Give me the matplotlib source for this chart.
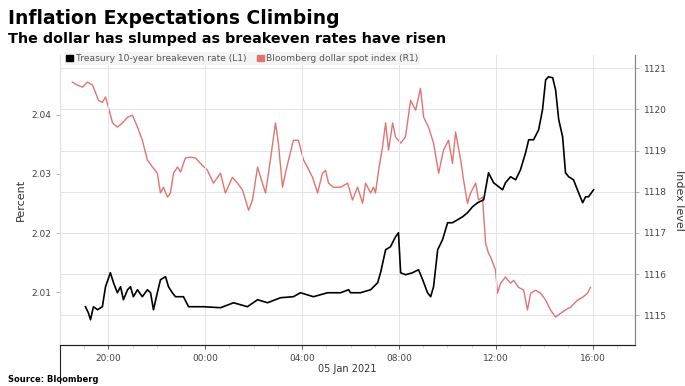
import numpy as np
import pandas as pd
import matplotlib
matplotlib.use("Agg")
import matplotlib.pyplot as plt
import matplotlib.dates as mdates
from matplotlib.patches import Patch

# hours after 2021-01-04 18:00
dollar_hours = [0.51, 0.72, 0.93, 1.13, 1.34, 1.46, 1.59, 1.75, 1.88, 2.0, 2.17, 2.37, 2.58, 2.79, 2.99,
                3.20, 3.40, 3.61, 3.82, 4.02, 4.15, 4.27, 4.44, 4.56, 4.69, 4.85, 4.98, 5.18, 5.39, 5.60,
                5.80, 6.09, 6.34, 6.63, 6.83, 7.12, 7.33, 7.54, 7.79, 7.95, 8.16, 8.36, 8.49, 8.69, 8.90,
                9.02, 9.19, 9.31, 9.44, 9.64, 9.85, 10.06, 10.22, 10.43, 10.64, 10.84, 10.97, 11.09, 11.30,
                11.59, 11.88, 12.08, 12.29, 12.50, 12.62, 12.83, 12.95, 13.03, 13.16, 13.32, 13.45, 13.57,
                13.74, 13.86, 14.07, 14.27, 14.48, 14.69, 14.89, 15.02, 15.22, 15.43, 15.64, 15.84, 16.05,
                16.21, 16.34, 16.55, 16.67, 16.83, 16.96, 17.17, 17.29, 17.45, 17.58, 17.70, 17.79, 17.99,
                18.07, 18.20, 18.40, 18.61, 18.74, 18.94, 19.15, 19.31, 19.44, 19.64, 19.85, 20.06, 20.26,
                20.47, 20.68, 20.88, 21.09, 21.38, 21.59, 21.79, 21.91]
dollar_index = [1120.66, 1120.59, 1120.54, 1120.66, 1120.59, 1120.42, 1120.22, 1120.17, 1120.30, 1120.05,
                1119.67, 1119.57, 1119.67, 1119.81, 1119.86, 1119.57, 1119.25, 1118.77, 1118.60, 1118.45,
                1117.97, 1118.11, 1117.87, 1117.97, 1118.45, 1118.60, 1118.48, 1118.82, 1118.84, 1118.82,
                1118.69, 1118.52, 1118.21, 1118.45, 1117.97, 1118.35, 1118.21, 1118.04, 1117.55, 1117.80,
                1118.60, 1118.21, 1117.97, 1118.77, 1119.67, 1119.18, 1118.11, 1118.45, 1118.77, 1119.25,
                1119.25, 1118.77, 1118.60, 1118.35, 1117.97, 1118.45, 1118.52, 1118.21, 1118.11, 1118.11,
                1118.21, 1117.80, 1118.11, 1117.72, 1118.21, 1117.97, 1118.11, 1117.97, 1118.52, 1119.08,
                1119.67, 1119.01, 1119.67, 1119.33, 1119.18, 1119.33, 1120.22, 1119.98, 1120.51, 1119.81,
                1119.57, 1119.18, 1118.45, 1119.01, 1119.25, 1118.69, 1119.45, 1118.77, 1118.28, 1117.72,
                1117.97, 1118.21, 1117.80, 1117.87, 1116.75, 1116.51, 1116.41, 1116.10, 1115.54, 1115.78,
                1115.93, 1115.78, 1115.85, 1115.68, 1115.61, 1115.13, 1115.54, 1115.61, 1115.54, 1115.37,
                1115.13, 1114.96, 1115.05, 1115.13, 1115.20, 1115.37, 1115.44, 1115.54, 1115.68]

breakeven_hours = [1.05, 1.17, 1.26, 1.38, 1.55, 1.75, 1.88, 2.08, 2.21, 2.37, 2.50, 2.62, 2.79, 2.91, 3.03,
                   3.20, 3.40, 3.61, 3.74, 3.86, 4.02, 4.15, 4.36, 4.48, 4.64, 4.77, 5.10, 5.31, 5.51, 5.93,
                   6.63, 7.17, 7.74, 8.16, 8.57, 9.11, 9.64, 9.93, 10.47, 11.05, 11.59, 11.92, 12.00, 12.41,
                   12.83, 13.12, 13.24, 13.45, 13.65, 13.86, 13.98, 14.07, 14.27, 14.56, 14.81, 14.98, 15.18,
                   15.31, 15.43, 15.60, 15.80, 16.01, 16.21, 16.42, 16.63, 16.83, 17.04, 17.25, 17.50, 17.70,
                   17.91, 18.12, 18.28, 18.40, 18.61, 18.82, 19.02, 19.23, 19.36, 19.56, 19.77, 19.93, 20.06,
                   20.18, 20.35, 20.47, 20.60, 20.76, 20.88, 21.01, 21.21, 21.42, 21.59, 21.71, 21.83, 22.04]
breakeven_rate = [2.00757, 2.00655, 2.00537, 2.00757, 2.00706, 2.00757, 2.01095, 2.01331, 2.01162, 2.00993,
                  2.01095, 2.00875, 2.01044, 2.01095, 2.00926, 2.01044, 2.00926, 2.01044, 2.00993, 2.00706,
                  2.00993, 2.01213, 2.01264, 2.01095, 2.00993, 2.00926, 2.00926, 2.00757, 2.00757, 2.00757,
                  2.00740, 2.00824, 2.00757, 2.00875, 2.00824, 2.00909, 2.00926, 2.00993, 2.00926, 2.00993,
                  2.00993, 2.01044, 2.00993, 2.00993, 2.01044, 2.01162, 2.01331, 2.01720, 2.01770, 2.01939,
                  2.02007, 2.01331, 2.01297, 2.01331, 2.01382, 2.01213, 2.00993, 2.00926, 2.01095, 2.01720,
                  2.01889, 2.02176, 2.02176, 2.02226, 2.02277, 2.02345, 2.02446, 2.02514, 2.02564, 2.03020,
                  2.02851, 2.02784, 2.02733, 2.02851, 2.02953, 2.02902, 2.03071, 2.03358, 2.03578, 2.03578,
                  2.03747, 2.04084, 2.04591, 2.04642, 2.04625, 2.04422, 2.03916, 2.03628, 2.03020, 2.02953,
                  2.02902, 2.02682, 2.02514, 2.02615, 2.02615, 2.02733]

left_ticks = [2.01, 2.02, 2.03, 2.04]
right_ticks = [1115, 1116, 1117, 1118, 1119, 1120, 1121]

start = pd.Timestamp("2021-01-04 18:00")
dollar_t = start + pd.to_timedelta(dollar_hours, unit="h")
breakeven_t = start + pd.to_timedelta(breakeven_hours, unit="h")

red = "#e37373"
fig = plt.figure(figsize=(6.85, 3.86), dpi=100)
ax = fig.add_axes([0.0876, 0.1062, 0.8394, 0.7513])
ax2 = ax.twinx()

ax2.plot(dollar_t, dollar_index, color=red, lw=1.0)
ax.plot(breakeven_t, breakeven_rate, color="black", lw=1.2)

ax.set_zorder(ax2.get_zorder() + 1)
ax.patch.set_visible(False)

ax.set_xlim(start, start + pd.Timedelta(hours=23.75))
ax.set_ylim(2.0011, 2.0501)
ax2.set_ylim(1114.28, 1121.32)
ax.set_yticks(left_ticks)
ax.set_yticklabels(["%.2f" % v for v in left_ticks])
ax2.set_yticks(right_ticks)

ax.xaxis.set_major_locator(mdates.HourLocator(byhour=[0, 4, 8, 12, 16, 20]))
ax.xaxis.set_major_formatter(mdates.DateFormatter("%H:%M"))
ax.xaxis.set_minor_locator(mdates.HourLocator())
ax.set_xlabel("05 Jan 2021", fontsize=7, color="#333333", labelpad=1)

ax.grid(axis="x", color="#e3e3e3", lw=0.7)
ax2.grid(axis="y", color="#e3e3e3", lw=0.7)

for a in (ax, ax2):
    a.tick_params(labelsize=6.5, colors="#444444", length=3, width=0.6)
    a.tick_params(which="minor", length=2, width=0.4, colors="#bbbbbb")
    a.spines["top"].set_visible(False)
    a.spines["left"].set_color("#e3e3e3")
    a.spines["right"].set_color("#888888")
    a.spines["bottom"].set_color("#222222")
ax.tick_params(axis="y", colors="#aaaaaa", labelcolor="#444444")
ax2.tick_params(axis="y", colors="#aaaaaa", labelcolor="#444444")
ax.plot([0, 0], [0, -0.13], transform=ax.transAxes, color="#222222", lw=0.8, clip_on=False)

ax.set_ylabel("Percent", fontsize=8, color="#333333", labelpad=4)
ax2.set_ylabel("Index level", fontsize=8, color="#333333", rotation=270, labelpad=12)

handles = [Patch(color="black"), Patch(color=red)]
leg = ax.legend(handles, ["Treasury 10-year breakeven rate (L1)", "Bloomberg dollar spot index (R1)"],
                loc="upper left", bbox_to_anchor=(0.0, 1.025), ncol=2, fontsize=6.6, frameon=True,
                handlelength=0.7, handleheight=0.7, handletextpad=0.3, columnspacing=1.2,
                borderpad=0.2, fancybox=False)
leg.get_frame().set_facecolor("#f2f2f2")
leg.get_frame().set_edgecolor("none")
for t in leg.get_texts():
    t.set_color("#555555")

fig.text(0.012, 0.952, "Inflation Expectations Climbing", fontsize=13.5, fontweight="bold", va="center")
fig.text(0.012, 0.900, "The dollar has slumped as breakeven rates have risen", fontsize=10.3,
         fontweight="bold", va="center")
fig.text(0.012, 0.018, "Source: Bloomberg", fontsize=6, fontweight="bold", va="center")

fig.savefig("out.png", dpi=100)
